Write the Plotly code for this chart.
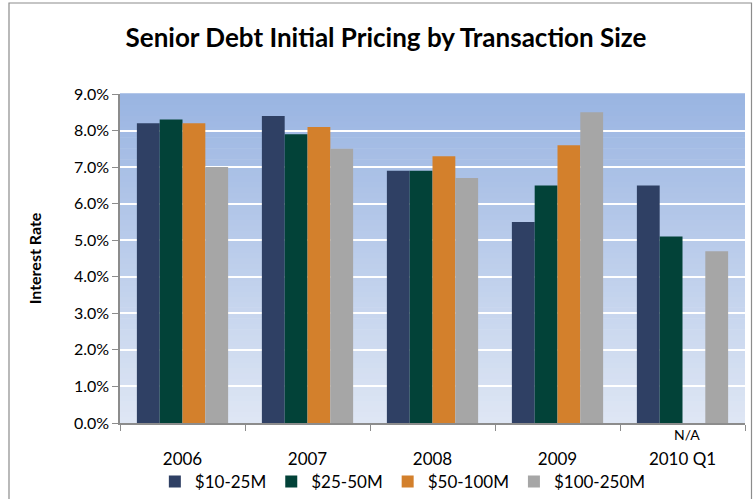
import plotly.graph_objects as go

categories = ["2006", "2007", "2008", "2009", "2010 Q1"]
series_names = ["$10-25M", "$25-50M", "$50-100M", "$100-250M"]
s_10_25 = [8.2, 8.4, 6.9, 5.5, 6.5]
s_25_50 = [8.3, 7.9, 6.9, 6.5, 5.1]
s_50_100 = [8.2, 8.1, 7.3, 7.6, None]
s_100_250 = [7.0, 7.5, 6.7, 8.5, 4.7]
y_ticks = [0, 1, 2, 3, 4, 5, 6, 7, 8, 9]
y_tick_labels = ["0.0%", "1.0%", "2.0%", "3.0%", "4.0%", "5.0%", "6.0%", "7.0%", "8.0%", "9.0%"]

colors = ["#2F4064", "#024238", "#D3802C", "#A6A6A6"]
FONT = "Lato"

fig = go.Figure()
for name, vals, c in zip(series_names, [s_10_25, s_25_50, s_50_100, s_100_250], colors):
    fig.add_trace(go.Bar(x=categories, y=vals, name=name, marker_color=c,
                         marker_line_width=0))

W, H = 753, 499
L, R, T, B = 120, 8, 94, 76
pw, ph = W - L - R, H - T - B

def px2x(px):
    return (px - L) / pw

def py2y(py):
    return (H - B - py) / ph

shapes = []
n = 60
top = (0x9A, 0xB5, 0xE2)
bot = (0xDE, 0xE6, 0xF4)
for i in range(n):
    t = i / (n - 1)
    col = tuple(int(round(bot[k] + (top[k] - bot[k]) * t)) for k in range(3))
    shapes.append(dict(type="rect", xref="paper", yref="paper",
                       x0=0, x1=1, y0=i / n, y1=(i + 1) / n + 0.002,
                       fillcolor="rgb(%d,%d,%d)" % col, line_width=0, layer="below"))
shapes.append(dict(type="rect", xref="paper", yref="paper",
                   x0=px2x(9), x1=px2x(751.5), y0=py2y(3), y1=py2y(520),
                   line=dict(color="#8C8C8C", width=1.2), fillcolor="rgba(0,0,0,0)"))

fig.update_layout(
    width=W, height=H,
    margin=dict(l=L, r=R, t=T, b=B, autoexpand=False),
    paper_bgcolor="white", plot_bgcolor="rgba(0,0,0,0)",
    barmode="group", bargap=0.27, bargroupgap=0,
    font=dict(family=FONT, size=15, color="#000000"),
    title=dict(text="<b>Senior Debt Initial Pricing by Transaction Size</b>",
               x=386 / W, xanchor="center", y=1 - 38 / H, yanchor="middle",
               font=dict(family=FONT, size=26, color="#000000")),
    shapes=shapes,
    showlegend=True,
    legend=dict(orientation="h", x=0.535, xref="container", xanchor="center",
                y=1 - 482 / H, yref="container", yanchor="middle",
                font=dict(family=FONT, size=17), itemwidth=30,
                traceorder="normal", bgcolor="rgba(0,0,0,0)"),
)
fig.update_xaxes(showline=True, linecolor="#8C8C8C", linewidth=1.5,
                 ticks="outside", tickson="boundaries", ticklen=6, tickcolor="#8C8C8C",
                 tickfont=dict(family=FONT, size=17), showgrid=False,
                 ticklabelstandoff=20)
fig.update_yaxes(range=[0, 9], tickvals=y_ticks, ticktext=y_tick_labels,
                 showline=True, linecolor="#8C8C8C", linewidth=1.5,
                 ticks="outside", ticklen=6, tickcolor="#8C8C8C",
                 tickfont=dict(family=FONT, size=16),
                 showgrid=True, gridcolor="white", gridwidth=2,
                 zeroline=False,
                 title=dict(text="<b>Interest Rate</b>", standoff=28,
                            font=dict(family=FONT, size=16)))

fig.add_annotation(x="2010 Q1", y=py2y(435), yref="paper", text="N/A",
                   showarrow=False, font=dict(family=FONT, size=14),
                   xanchor="center", yanchor="middle", xshift=4)

fig.write_html("out.html", config={"displayModeBar": False},
               post_script="document.body.style.margin='0';")
